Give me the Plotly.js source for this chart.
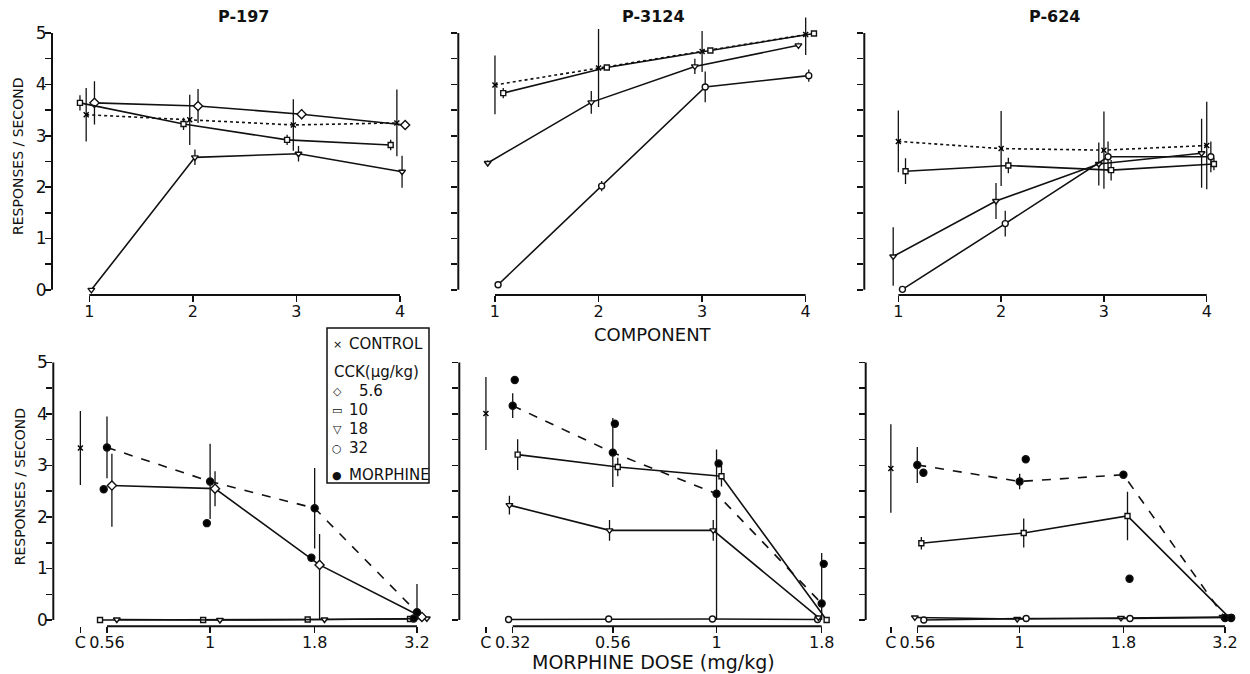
<!DOCTYPE html>
<html><head><meta charset="utf-8">
<script src="https://cdn.plot.ly/plotly-3.0.1.min.js"></script>
<style>html,body{margin:0;padding:0;background:#fff;} #chart{width:1250px;height:674px;}</style>
</head><body><div id="chart"></div>
<script>
// ===================== DATA =====================
// categories / tick labels
const components = [1, 2, 3, 4];
const componentLabels = ['1', '2', '3', '4'];
const dosesP197 = [0.56, 1, 1.8, 3.2];
const dosesP3124 = [0.32, 0.56, 1, 1.8];
const dosesP624 = [0.56, 1, 1.8, 3.2];
const doseLabelsP197 = ['C', '0.56', '1', '1.8', '3.2'];
const doseLabelsP3124 = ['C', '0.32', '0.56', '1', '1.8'];
const doseLabelsP624 = ['C', '0.56', '1', '1.8', '3.2'];
const panelTitles = ['P-197', 'P-3124', 'P-624'];
const legendLabels = ['CONTROL', 'CCK(μg/kg)', '5.6', '10', '18', '32', 'MORPHINE'];

// ---- top row: responses/second by FR component ----
// P-197
const p197Control = [3.41, 3.31, 3.21, 3.25];
const p197ControlErr = [0.52, 0.49, 0.5, 0.65];
const p197Cck56 = [3.64, 3.58, 3.42, 3.21];
const p197Cck56Err = [0.42, 0.33, 0.1, 0];
const p197Cck10 = [3.64, 3.23, 2.92, 2.82];
const p197Cck10Err = [0.15, 0.12, 0.1, 0.1];
const p197Cck18 = [0, 2.58, 2.65, 2.3];
const p197Cck18Err = [0, 0.15, 0.15, 0.31];
// P-3124
const p3124Control = [3.99, 4.32, 4.64, 4.97];
const p3124ControlErr = [0.57, 0.76, 0.4, 0.4];
const p3124Cck10 = [3.83, 4.33, 4.66, 4.99];
const p3124Cck10Err = [0.1, 0, 0, 0];
const p3124Cck18 = [2.47, 3.65, 4.35, 4.76];
const p3124Cck18Err = [0.05, 0.22, 0.15, 0.05];
const p3124Cck32 = [0.1, 2.02, 3.95, 4.17];
const p3124Cck32Err = [0, 0.1, 0.3, 0.12];
// P-624
const p624Control = [2.89, 2.75, 2.72, 2.81];
const p624ControlErr = [0.6, 0.73, 0.75, 0.85];
const p624Cck10 = [2.31, 2.42, 2.33, 2.45];
const p624Cck10Err = [0.25, 0.15, 0.2, 0.12];
const p624Cck18 = [0.65, 1.73, 2.45, 2.66];
const p624Cck18Err = [0.57, 0.35, 0.42, 0.67];
const p624Cck32 = [0.01, 1.29, 2.59, 2.59];
const p624Cck32Err = [0, 0.25, 0.3, 0.3];

// ---- bottom row: responses/second by morphine dose ----
// P-197
const p197DoseControl = [3.34];
const p197DoseControlErr = [0.72];
const p197Morphine = [3.35, 2.69, 2.17, 0.15];
const p197MorphineErrUp = [0.6, 0.73, 0.78, 0.55];
const p197MorphineErrDown = [0.6, 0.73, 0.78, 0.15];
const p197MorphineSingle = [2.54, 1.88, 1.21, 0.03];
const p197DoseCck56 = [2.61, 2.55, 1.07, 0.06];
const p197DoseCck56ErrUp = [0.62, 0.34, 0.6, 0];
const p197DoseCck56ErrDown = [0.8, 0.34, 1.07, 0];
const p197DoseCck10 = [0, 0, 0.01, 0.02];
const p197DoseCck18 = [0.01, 0, 0.01, 0.03];
// P-3124
const p3124DoseControl = [4.01];
const p3124DoseControlErr = [0.71];
const p3124Morphine = [4.16, 3.25, 2.45, 0.32];
const p3124MorphineErrUp = [0.24, 0.67, 0.86, 0.98];
const p3124MorphineErrDown = [0.24, 0.67, 2.45, 0.32];
const p3124MorphineSingle = [4.66, 3.81, 3.04, 1.09];
const p3124DoseCck10 = [3.21, 2.97, 2.79, 0.0];
const p3124DoseCck10Err = [0.3, 0.18, 0.2, 0];
const p3124DoseCck18 = [2.23, 1.74, 1.74, 0.05];
const p3124DoseCck18Err = [0.18, 0.2, 0.2, 0];
const p3124DoseCck32 = [0.01, 0.02, 0.02, 0.01];
// P-624
const p624DoseControl = [2.94];
const p624DoseControlErr = [0.86];
const p624Morphine = [3.01, 2.69, 2.82, 0.04];
const p624MorphineErr = [0.35, 0.15, 0.05, 0];
const p624MorphineSingle = [2.86, 3.12, 0.8, 0.04];
const p624DoseCck10 = [1.49, 1.69, 2.02, 0.05];
const p624DoseCck10Err = [0.12, 0.28, 0.47, 0];
const p624DoseCck18 = [0.05, 0.02, 0.04, 0.06];
const p624DoseCck32 = [0.0, 0.03, 0.03, 0.05];

// ===================== STYLE =====================
const FONT = 'DejaVu Sans, Verdana, sans-serif';
const INK = '#111';
const STY = {
  control: {symbol: 'x-thin-open', size: 5, dash: 'dot', fill: 'black', glyph: '×'},
  c56: {symbol: 'diamond', size: 7, dash: 'solid', glyph: '◇'},
  c10: {symbol: 'square', size: 5, dash: 'solid', glyph: '▭'},
  c18: {symbol: 'triangle-down', size: 6, dash: 'solid', glyph: '▽'},
  c32: {symbol: 'circle', size: 6, dash: 'solid', glyph: '○'},
  morph: {symbol: 'circle', size: 7, dash: 'dash', fill: 'black', glyph: '●'}
};

function axId(n) { return n === 1 ? '' : String(n); }

function tr(n, xs, ys, key, o) {
  o = o || {};
  const s = STY[key];
  const t = {
    type: 'scatter', mode: o.noLine ? 'markers' : 'lines+markers',
    xaxis: 'x' + axId(n), yaxis: 'y' + axId(n), x: xs, y: ys,
    showlegend: false, cliponaxis: false, hoverinfo: 'skip',
    line: {color: INK, width: 1.6, dash: s.dash},
    marker: {symbol: s.symbol, size: s.size, color: s.fill || 'white',
             line: {color: INK, width: 1.4}}
  };
  if (o.err) {
    t.error_y = {type: 'data', array: o.err, width: 0, thickness: 1.3, color: INK};
    if (o.errm) { t.error_y.symmetric = false; t.error_y.arrayminus = o.errm; }
  }
  return t;
}

const shiftC = (dx) => components.map(c => c + dx);
const shiftD = (doses, dx) => doses.map(d => Math.log10(d) + dx);
const cPos = (doses) => Math.log10(doses[0]) - 0.065;

const traces = [
  // ---- P-197 component ----
  tr(1, shiftC(-0.03), p197Control, 'control', {err: p197ControlErr}),
  tr(1, shiftC(0.05), p197Cck56, 'c56', {err: p197Cck56Err}),
  tr(1, shiftC(-0.09), p197Cck10, 'c10', {err: p197Cck10Err}),
  tr(1, shiftC(0.02), p197Cck18, 'c18', {err: p197Cck18Err}),
  // ---- P-3124 component ----
  tr(2, shiftC(0), p3124Control, 'control', {err: p3124ControlErr}),
  tr(2, shiftC(0.08), p3124Cck10, 'c10', {err: p3124Cck10Err}),
  tr(2, shiftC(-0.07), p3124Cck18, 'c18', {err: p3124Cck18Err}),
  tr(2, shiftC(0.03), p3124Cck32, 'c32', {err: p3124Cck32Err}),
  // ---- P-624 component ----
  tr(3, shiftC(0), p624Control, 'control', {err: p624ControlErr}),
  tr(3, shiftC(0.07), p624Cck10, 'c10', {err: p624Cck10Err}),
  tr(3, shiftC(-0.05), p624Cck18, 'c18', {err: p624Cck18Err}),
  tr(3, shiftC(0.04), p624Cck32, 'c32', {err: p624Cck32Err}),
  // ---- P-197 dose ----
  tr(4, [cPos(dosesP197)], p197DoseControl, 'control', {err: p197DoseControlErr, noLine: true}),
  tr(4, shiftD(dosesP197, -0.017), p197DoseCck10, 'c10'),
  tr(4, shiftD(dosesP197, 0.024), p197DoseCck18, 'c18'),
  tr(4, shiftD(dosesP197, 0.012), p197DoseCck56, 'c56', {err: p197DoseCck56ErrUp, errm: p197DoseCck56ErrDown}),
  tr(4, shiftD(dosesP197, 0), p197Morphine, 'morph', {err: p197MorphineErrUp, errm: p197MorphineErrDown}),
  tr(4, shiftD(dosesP197, -0.008), p197MorphineSingle, 'morph', {noLine: true}),
  // ---- P-3124 dose ----
  tr(5, [cPos(dosesP3124)], p3124DoseControl, 'control', {err: p3124DoseControlErr, noLine: true}),
  tr(5, shiftD(dosesP3124, -0.01), p3124DoseCck32, 'c32'),
  tr(5, shiftD(dosesP3124, -0.008), p3124DoseCck18, 'c18', {err: p3124DoseCck18Err}),
  tr(5, shiftD(dosesP3124, 0.012), p3124DoseCck10, 'c10', {err: p3124DoseCck10Err}),
  tr(5, shiftD(dosesP3124, 0), p3124Morphine, 'morph', {err: p3124MorphineErrUp, errm: p3124MorphineErrDown}),
  tr(5, shiftD(dosesP3124, 0.005), p3124MorphineSingle, 'morph', {noLine: true}),
  // ---- P-624 dose ----
  tr(6, [cPos(dosesP624)], p624DoseControl, 'control', {err: p624DoseControlErr, noLine: true}),
  tr(6, shiftD(dosesP624, -0.006), p624DoseCck18, 'c18'),
  tr(6, shiftD(dosesP624, 0.016), p624DoseCck32, 'c32'),
  tr(6, shiftD(dosesP624, 0.01), p624DoseCck10, 'c10', {err: p624DoseCck10Err}),
  tr(6, shiftD(dosesP624, 0), p624Morphine, 'morph', {err: p624MorphineErr}),
  tr(6, shiftD(dosesP624, 0.015), p624MorphineSingle, 'morph', {noLine: true})
];

// ===================== LAYOUT =====================
const W = 1250, H = 674;
const px = (a, b) => [a / W, b / W];
const py = (top, bottom) => [1 - bottom / H, 1 - top / H];

const yTickVals = [0, 0.5, 1, 1.5, 2, 2.5, 3, 3.5, 4, 4.5, 5];
const yTickText = ['0', '', '1', '', '2', '', '3', '', '4', '', '5'];

function xAxis(domain, range, tickvals, ticktext, n) {
  return {domain: domain, range: range, tickmode: 'array', tickvals: tickvals, ticktext: ticktext,
    ticks: 'outside', ticklen: 6, tickwidth: 1.5, tickcolor: INK, showline: false, showgrid: false,
    zeroline: false, automargin: false, anchor: 'y' + axId(n), fixedrange: true, ticklabelstandoff: -4,
    tickangle: 0, ticklabeloverflow: 'allow',
    tickfont: {size: 16, family: FONT, color: INK}};
}
function yAxis(domain, range, labels, n) {
  const a = {domain: domain, range: range, tickmode: 'array', tickvals: yTickVals, ticktext: yTickText,
    ticks: 'outside', ticklen: 6, tickwidth: 1.5, tickcolor: INK, showline: false, showgrid: false,
    zeroline: false, automargin: false, anchor: 'x' + axId(n), showticklabels: labels, fixedrange: true,
    ticklabelstandoff: -5,
    tickfont: {size: 17, family: FONT, color: INK}};
  if (labels) a.title = {text: 'RESPONSES / SECOND', font: {size: 14, family: FONT, color: INK}, standoff: 8};
  return a;
}

const topY = py(17.6, 295), botY = py(347, 626.2);
const topYR = [-0.1, 5.3], botYR = [-0.12, 5.3];
const lg = Math.log10;

const axes = {
  xaxis: xAxis(px(52, 412), [0.640, 4.116], components, componentLabels, 1),
  xaxis2: xAxis(px(458.3, 818), [0.646, 4.119], components, componentLabels, 2),
  xaxis3: xAxis(px(864.3, 1220), [0.669, 4.129], components, componentLabels, 3),
  xaxis4: xAxis(px(53.3, 437), [-0.3829, 0.554], [cPos(dosesP197)].concat(dosesP197.map(lg)), doseLabelsP197, 4),
  xaxis5: xAxis(px(459.3, 835), [-0.6245, 0.2876], [cPos(dosesP3124)].concat(dosesP3124.map(lg)), doseLabelsP3124, 5),
  xaxis6: xAxis(px(865.7, 1245), [-0.3787, 0.5543], [cPos(dosesP624)].concat(dosesP624.map(lg)), doseLabelsP624, 6),
  yaxis: yAxis(topY, topYR, true, 1),
  yaxis2: yAxis(topY, topYR, false, 2),
  yaxis3: yAxis(topY, topYR, false, 3),
  yaxis4: yAxis(botY, botYR, true, 4),
  yaxis5: yAxis(botY, botYR, false, 5),
  yaxis6: yAxis(botY, botYR, false, 6)
};

const layout = Object.assign({
  width: W, height: H, margin: {l: 0, r: 0, t: 0, b: 0},
  paper_bgcolor: 'white', plot_bgcolor: 'white',
  font: {family: FONT, color: INK},
  showlegend: false,
  shapes: [],
  annotations: []
}, axes);

// map an axis value to paper coordinates (for detached axis lines)
function toPaper(ax, v) {
  const d = ax.domain, r = ax.range;
  return d[0] + (v - r[0]) / (r[1] - r[0]) * (d[1] - d[0]);
}

// detached axis lines: y from 0 to 5, x spanning first to last category
const xSpans = [
  [components[0], components[3]], [components[0], components[3]], [components[0], components[3]],
  [lg(dosesP197[0]), lg(dosesP197[3])], [lg(dosesP3124[0]), lg(dosesP3124[3])], [lg(dosesP624[0]), lg(dosesP624[3])]
];
for (let n = 1; n <= 6; n++) {
  const id = axId(n);
  const xa = axes['xaxis' + id], ya = axes['yaxis' + id];
  layout.shapes.push({type: 'line', xref: 'paper', yref: 'paper',
    x0: xa.domain[0], x1: xa.domain[0], y0: toPaper(ya, 0), y1: toPaper(ya, 5),
    line: {color: INK, width: 2}});
  layout.shapes.push({type: 'line', xref: 'paper', yref: 'paper',
    x0: toPaper(xa, xSpans[n - 1][0]), x1: toPaper(xa, xSpans[n - 1][1]),
    y0: ya.domain[0], y1: ya.domain[0], line: {color: INK, width: 2}});
}

// panel titles and shared axis titles
const titleX = [243, 653, 1054];
panelTitles.forEach((t, i) => layout.annotations.push({text: '<b>' + t + '</b>', xref: 'paper', yref: 'paper',
  x: titleX[i] / W, y: 1 - 16 / H, xanchor: 'center', yanchor: 'middle', showarrow: false,
  font: {size: 16, family: FONT, color: INK}}));
layout.annotations.push({text: 'COMPONENT', xref: 'paper', yref: 'paper', x: 653 / W, y: 1 - 334 / H,
  xanchor: 'center', yanchor: 'middle', showarrow: false, font: {size: 18, family: FONT, color: INK}});
layout.annotations.push({text: 'MORPHINE DOSE (mg/kg)', xref: 'paper', yref: 'paper', x: 653 / W, y: 1 - 662 / H,
  xanchor: 'center', yanchor: 'middle', showarrow: false, font: {size: 19, family: FONT, color: INK}});

// key box (inside the lower-left panel)
const keyBox = {x0: 327, x1: 429, y0: 328, y1: 483};
layout.shapes.push({type: 'rect', xref: 'paper', yref: 'paper',
  x0: keyBox.x0 / W, x1: keyBox.x1 / W, y0: 1 - keyBox.y1 / H, y1: 1 - keyBox.y0 / H,
  line: {color: INK, width: 1.5}, fillcolor: 'white', layer: 'above'});
const keyRows = [
  {label: legendLabels[0], sym: 'control', y: 344, tx: 347},
  {label: legendLabels[1], sym: null, y: 372, tx: 332},
  {label: legendLabels[2], sym: 'c56', y: 391, tx: 357},
  {label: legendLabels[3], sym: 'c10', y: 410, tx: 347},
  {label: legendLabels[4], sym: 'c18', y: 429, tx: 347},
  {label: legendLabels[5], sym: 'c32', y: 448, tx: 347},
  {label: legendLabels[6], sym: 'morph', y: 475, tx: 347}
];
keyRows.forEach(r => {
  layout.annotations.push({text: r.label, xref: 'paper', yref: 'paper', x: r.tx / W, y: 1 - r.y / H,
    xanchor: 'left', yanchor: 'middle', showarrow: false, font: {size: 15, family: FONT, color: INK}});
  if (r.sym) layout.annotations.push({text: STY[r.sym].glyph, xref: 'paper', yref: 'paper', x: 337 / W, y: 1 - r.y / H,
    xanchor: 'center', yanchor: 'middle', showarrow: false, font: {size: 11, family: FONT, color: INK}});
});

Plotly.newPlot('chart', traces, layout, {staticPlot: true, displayModeBar: false});
</script>
</body></html>
